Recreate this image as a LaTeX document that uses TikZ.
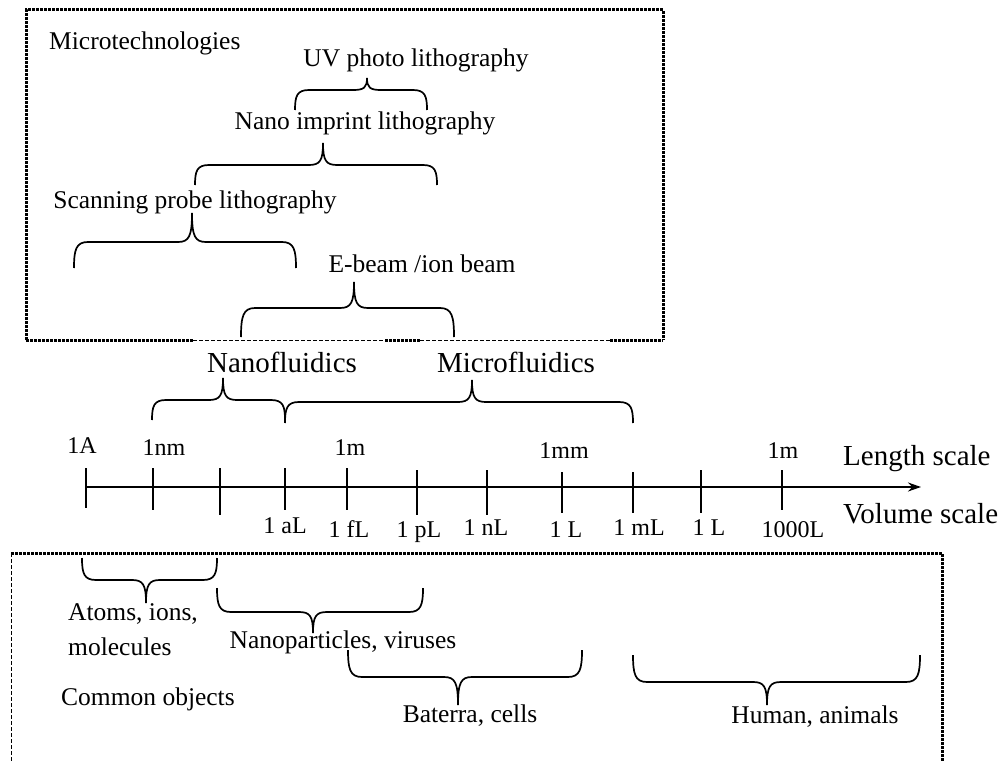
\documentclass[tikz,border=0pt]{standalone}
\usepackage{fontspec}
\setmainfont{Liberation Serif}
\usetikzlibrary{arrows.meta}
\newcommand\fmidtxt{\fontsize{25.5}{30}\selectfont}
\newcommand\fbigtxt{\fontsize{29}{34}\selectfont}
\newcommand\fsmalltxt{\fontsize{24}{28}\selectfont}
% curly brace: x1, x2, xm, y-end, y-bar, y-tip
\newcommand\cbrace[6]{%
  \draw[bracel] (#1,#4) .. controls (#1,{#5+0.3*(#4-#5)}) and ({#1+2},#5) .. ({#1+14},#5)
    -- ({#3-14},#5) .. controls ({#3-3},#5) and (#3,{#5+0.2*(#6-#5)}) .. (#3,#6)
    .. controls (#3,{#5+0.2*(#6-#5)}) and ({#3+3},#5) .. ({#3+14},#5)
    -- ({#2-14},#5) .. controls ({#2-2},#5) and (#2,{#5+0.3*(#4-#5)}) .. (#2,#4);}
\begin{document}
\begin{tikzpicture}[x=1pt,y=-1pt,
  bracel/.style={line width=1.7pt},
  dotb/.style={line width=3pt,dash pattern=on 2.6pt off 1.4pt},
  dashb/.style={line width=1pt,dash pattern=on 4pt off 2pt},
  lbl/.style={inner sep=0pt,anchor=base,font=\fmidtxt},
  lbll/.style={inner sep=0pt,anchor=base west,font=\fmidtxt},
  tlbl/.style={inner sep=0pt,anchor=base,font=\fsmalltxt},
  blbl/.style={inner sep=0pt,anchor=base west,font=\fbigtxt},
  tick/.style={line width=1.7pt}]
\useasboundingbox (0,0) rectangle (1008,762);

% top box
\draw[dotb] (26,340) -- (26,10) -- (663,10) -- (663,340);
\draw[dotb] (26,340) -- (193,340);
\draw[dashb] (193,340) -- (385,340);
\draw[dotb] (385,340) -- (420,340);
\draw[dashb] (420,340) -- (610,340);
\draw[dotb] (610,340) -- (663,340);

% bottom box
\draw[dotb] (11,553) -- (942,553) -- (942,762);
\draw[dashb] (11,553) -- (11,762);

% top box texts
\node[lbll] (mt) at (49,50) {Microtechnologies};
\node[lbl] (uv) at (416,67) {UV photo lithography};
\node[lbl] (nil) at (365,130) {Nano imprint lithography};
\node[lbl] (spl) at (195,208) {Scanning probe lithography};
\node[lbl] (eb) at (422,272) {E-beam /ion beam};

\cbrace{295}{427}{367}{110}{90}{78}
\cbrace{195}{437}{323}{185}{165}{143}
\cbrace{74}{296}{192}{268}{242}{213}
\cbrace{241}{454}{354}{337}{308}{282}

% fluidics
\node[inner sep=0pt,anchor=base,font=\fbigtxt] (nf) at (282,372) {Nanofluidics};
\node[inner sep=0pt,anchor=base,font=\fbigtxt] (mf) at (516,372) {Microfluidics};
\cbrace{152}{285}{223}{420}{400}{378}
\cbrace{285}{633}{472}{423}{402}{380}

% axis
\coordinate (a0) at (86,487);
\coordinate (a1) at (921,487);
\draw[line width=1.7pt,-{Stealth[length=13pt,width=9pt]}] (a0) -- (a1);
\foreach \x/\ya/\yb in {86/468/508,153/468/510,220/468/515,285/468/510,347/468/510,417/470/515,487/470/515,562/472/513,633/472/513,701/470/513,782/470/510}
  \draw[tick] (\x,\ya) -- (\x,\yb);

\node[tlbl] (l1) at (82,453) {1A};
\node[tlbl] (l2) at (164,455) {1nm};
\node[tlbl] (l3) at (350,455) {1m};
\node[tlbl] (l4) at (564,458) {1mm};
\node[tlbl] (l5) at (783,458) {1m};
\node[blbl] (ls) at (843,465) {Length scale};
\node[blbl] (vs) at (843,523) {Volume scale};

\node[tlbl] (v1) at (285,533) {1 aL};
\node[tlbl] (v2) at (349,537) {1 fL};
\node[tlbl] (v3) at (419,537) {1 pL};
\node[tlbl] (v4) at (486,535) {1 nL};
\node[tlbl] (v5) at (566,537) {1 L};
\node[tlbl] (v6) at (639,535) {1 mL};
\node[tlbl] (v7) at (709,535) {1 L};
\node[tlbl] (v8) at (793,537) {1000L};

% bottom braces
\cbrace{82}{217}{146}{558}{580}{603}
\cbrace{217}{423}{313}{588}{612}{633}
\cbrace{348}{582}{458}{650}{677}{705}
\cbrace{633}{920}{767}{655}{682}{705}

\node[lbll] (at1) at (68,620) {Atoms, ions,};
\node[lbll] (at2) at (68,655) {molecules};
\node[lbl] (np) at (343,648) {Nanoparticles, viruses};
\node[lbll] (co) at (61,705) {Common objects};
\node[lbl] (bc) at (470,722) {Baterra, cells};
\node[lbl] (ha) at (815,723) {Human, animals};
\end{tikzpicture}
\end{document}
